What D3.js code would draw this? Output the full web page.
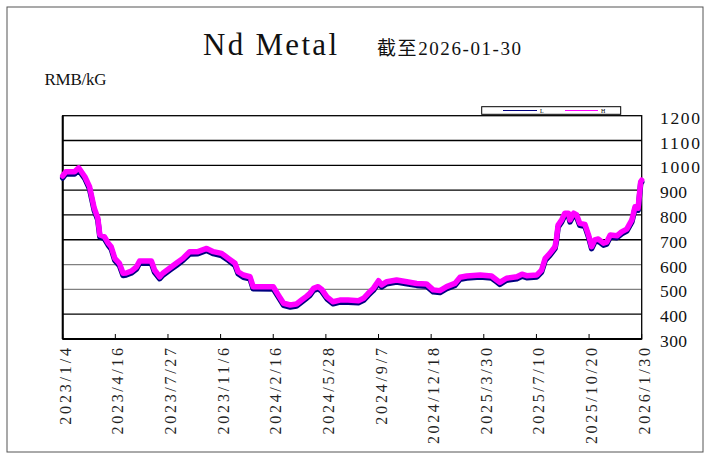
<!DOCTYPE html>
<html><head><meta charset="utf-8">
<script src="https://cdn.jsdelivr.net/npm/d3@7"></script>
<style>html,body{margin:0;padding:0;background:#fff;}</style>
</head><body>
<svg id="c" width="711" height="458"></svg>
<script>
const dates = ["2023-01-04","2023-01-10","2023-01-27","2023-02-04","2023-02-16","2023-02-25","2023-03-06","2023-03-13","2023-03-17","2023-03-26",
"2023-04-02","2023-04-08","2023-04-15","2023-04-24","2023-05-01","2023-05-07","2023-05-17","2023-05-27","2023-06-02","2023-06-25",
"2023-07-01","2023-07-11","2023-07-17","2023-07-30","2023-08-12","2023-08-25","2023-09-07","2023-09-23","2023-10-10","2023-10-23",
"2023-11-08","2023-11-21","2023-12-04","2023-12-10","2023-12-20","2024-01-02","2024-01-08","2024-02-16","2024-02-26","2024-03-07",
"2024-03-20","2024-04-01","2024-04-11","2024-04-21","2024-04-27","2024-05-04","2024-05-13","2024-05-20","2024-05-30","2024-06-11",
"2024-06-24","2024-07-10","2024-07-30","2024-08-09","2024-08-18","2024-08-28","2024-09-07","2024-09-13","2024-09-23","2024-10-12",
"2024-11-01","2024-11-20","2024-12-09","2024-12-22","2025-01-04","2025-01-17","2025-02-02","2025-02-12","2025-02-25","2025-03-23",
"2025-04-14","2025-04-24","2025-04-30","2025-05-13","2025-06-02","2025-06-12","2025-06-21","2025-07-11","2025-07-20","2025-07-27",
"2025-08-05","2025-08-15","2025-08-18","2025-08-21","2025-08-28","2025-09-03","2025-09-10","2025-09-13","2025-09-20","2025-09-26",
"2025-10-02","2025-10-12","2025-10-19","2025-10-25","2025-10-31","2025-11-07","2025-11-17","2025-11-23","2025-11-30","2025-12-13",
"2025-12-22","2026-01-01","2026-01-11","2026-01-17","2026-01-23","2026-01-28","2026-01-30"];
const seriesH = [957,974,974,990,954,914,828,788,719,712,
687,672,625,605,565,566,574,591,614,614,
578,551,565,585,605,625,652,652,665,652,
645,625,605,571,558,551,511,511,477,444,
437,441,457,473,484,504,511,500,470,450,
457,457,454,464,484,504,535,518,531,538,
531,524,522,498,495,511,524,549,554,558,
554,538,528,545,551,561,555,558,578,625,
645,672,706,759,780,807,807,780,807,800,
766,762,719,672,699,703,686,690,719,716,
732,743,780,833,827,934,940];
const seriesL = [949,966,965,981,946,905,819,780,711,704,
679,663,617,596,556,558,566,582,606,605,
569,543,557,577,596,617,643,644,657,644,
636,617,596,563,549,543,503,502,469,436,
429,433,449,465,476,496,503,492,462,442,
449,448,446,456,476,496,527,510,523,530,
523,516,513,490,487,503,516,541,546,550,
546,530,520,537,543,553,547,550,570,617,
637,664,698,751,772,799,799,772,799,792,
758,754,711,664,691,695,678,682,711,708,
724,735,772,825,819,926,932];
const tickLabels = ["2023/1/4","2023/4/16","2023/7/27","2023/11/6","2024/2/16","2024/5/28","2024/9/7","2024/12/18","2025/3/30","2025/7/10","2025/10/20","2026/1/30"];
const yTicks = [300,400,500,600,700,800,900,1000,1100,1200];
const seriesNames = ["L","H"];
const seriesColors = ["#000080","#FF00FF"];

const svg = d3.select("#c");
const parse = d3.timeParse("%Y-%m-%d");
const parseTick = d3.timeParse("%Y/%m/%d");
const L = 62.7, R = 641.7, T = 115.7, B = 339;
const x = d3.scaleTime().domain([parse(dates[0]), parse(dates[dates.length-1])]).range([L, R]);
const y = d3.scaleLinear().domain([300, 1200]).range([B, T]);
const serif = "'Liberation Serif','Noto Sans CJK SC',serif";

// outer frame
svg.append("rect").attr("x",7).attr("y",7).attr("width",696).attr("height",445)
  .attr("fill","#fff").attr("stroke","#555").attr("stroke-width",1);

// titles
svg.append("text").attr("x",203).attr("y",55).attr("font-family",serif).attr("font-size",31)
  .attr("fill","#111").attr("textLength",134).attr("lengthAdjust","spacing").text("Nd Metal");
svg.append("text").attr("x",377).attr("y",55).attr("font-family",serif).attr("font-size",19)
  .attr("fill","#111").attr("textLength",144).attr("lengthAdjust","spacing").text("截至2026-01-30");
svg.append("text").attr("x",44.5).attr("y",85).attr("font-family",serif).attr("font-size",17)
  .attr("fill","#111").attr("textLength",62).attr("lengthAdjust","spacing").text("RMB/kG");

// gridlines
svg.append("g").selectAll("line").data(yTicks.filter(v => v > 300 && v < 1200)).join("line")
  .attr("x1",L).attr("x2",R).attr("y1",d=>y(d)).attr("y2",d=>y(d))
  .attr("stroke",d => (d===500||d===600) ? "#808080" : "#000").attr("stroke-width",1.3);

// plot frame
svg.append("rect").attr("x",L).attr("y",T).attr("width",R-L).attr("height",B-T)
  .attr("fill","none").attr("stroke","#000").attr("stroke-width",1.3);
svg.append("line").attr("x1",L).attr("x2",L).attr("y1",T).attr("y2",B).attr("stroke","#000").attr("stroke-width",2);
svg.append("line").attr("x1",L).attr("x2",R).attr("y1",B).attr("y2",B).attr("stroke","#000").attr("stroke-width",2.2);

// x ticks
const tickDates = tickLabels.map(parseTick);
svg.append("g").selectAll("line").data(tickDates).join("line")
  .attr("x1",d=>x(d)).attr("x2",d=>x(d)).attr("y1",B).attr("y2",B-5).attr("stroke","#000").attr("stroke-width",1);
svg.append("g").selectAll("text").data(tickLabels).join("text")
  .attr("transform",(d,i)=>`translate(${x(tickDates[i])+2.5},348) rotate(-90)`)
  .attr("text-anchor","end").attr("dominant-baseline","central")
  .attr("font-family",serif).attr("font-size",16).attr("fill","#222")
  .attr("textLength",d=>d.length*9.6).attr("lengthAdjust","spacing")
  .text(d=>d);

// y labels (right)
svg.append("g").selectAll("text").data(yTicks).join("text")
  .attr("x",660).attr("y",d=>y(d)+2).attr("dominant-baseline","central")
  .attr("font-family",serif).attr("font-size",17.5).attr("fill","#111")
  .attr("textLength",d=>String(d).length===4?40:27).attr("lengthAdjust","spacing")
  .text(d=>d);

// lines
const pts = (vals) => dates.map((d,i)=>[parse(d), vals[i]]);
const line = d3.line().x(d=>x(d[0])).y(d=>y(d[1]));
[seriesL, seriesH].forEach((vals,i)=>{
  svg.append("path").datum(pts(vals)).attr("d",line)
    .attr("fill","none").attr("stroke",seriesColors[i]).attr("stroke-width",5.5)
    .attr("stroke-linejoin","round").attr("stroke-linecap","round");
});

// legend
svg.append("rect").attr("x",481.7).attr("y",106.7).attr("width",139).attr("height",7.6)
  .attr("fill","#fff").attr("stroke","#000").attr("stroke-width",1);
const legX = [[503,537,540],[565,598,601]];
seriesNames.forEach((n,i)=>{
  svg.append("line").attr("x1",legX[i][0]).attr("x2",legX[i][1]).attr("y1",110.5).attr("y2",110.5)
    .attr("stroke",seriesColors[i]).attr("stroke-width",1.2);
  svg.append("text").attr("x",legX[i][2]).attr("y",112.8).attr("font-family",serif).attr("font-size",6)
    .text(n);
});
</script>
</body></html>
